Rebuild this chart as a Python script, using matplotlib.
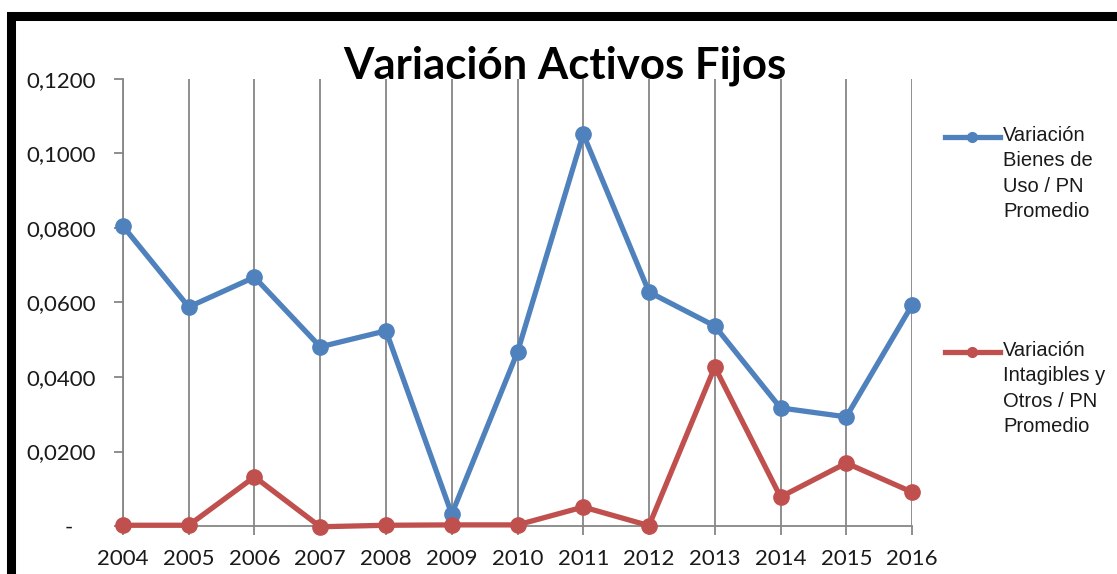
import matplotlib
matplotlib.use('Agg')
import matplotlib.pyplot as plt
from matplotlib.patches import Rectangle
from matplotlib.lines import Line2D

# datos
years = [2004, 2005, 2006, 2007, 2008, 2009, 2010, 2011, 2012, 2013, 2014, 2015, 2016]
bienes_uso = [0.0805, 0.0588, 0.0668, 0.0481, 0.0524, 0.0032, 0.0467, 0.1052,
              0.0628, 0.0537, 0.0317, 0.0293, 0.0593]
intangibles = [0.0002, 0.0002, 0.0132, -0.0002, 0.0002, 0.0003, 0.0003, 0.0051,
               0.0001, 0.0427, 0.0078, 0.0169, 0.0091]
y_ticks = [0, 0.02, 0.04, 0.06, 0.08, 0.10, 0.12]
y_labels = ['-    ', '0,0200', '0,0400', '0,0600', '0,0800', '0,1000', '0,1200']
legend_labels = ['Variación\nBienes de\nUso / PN\nPromedio',
                 'Variación\nIntagibles y\nOtros / PN\nPromedio']

blue = '#4F81BD'
red = '#C0504D'
grid_col = '#868686'

plt.rcParams['font.family'] = ['Lato', 'DejaVu Sans']

fig = plt.figure(figsize=(11.17, 5.74), dpi=100)
ax = fig.add_axes([0.1101, 0.0836, 0.7064, 0.7788])

ax.plot(years, bienes_uso, color=blue, lw=3.8, marker='o', ms=11, zorder=3,
        clip_on=False)
ax.plot(years, intangibles, color=red, lw=3.8, marker='o', ms=11, zorder=3,
        clip_on=False)

ax.set_xlim(years[0], years[-1])
ax.set_ylim(0, 0.12)
ax.set_xticks(years)
ax.set_xticklabels([str(y) for y in years])
ax.set_yticks(y_ticks)
ax.set_yticklabels(y_labels)
for y in years:
    ax.axvline(y, color=grid_col, lw=1.3, zorder=1)

for s in ['top', 'right']:
    ax.spines[s].set_visible(False)
for s in ['left', 'bottom']:
    ax.spines[s].set_color(grid_col)
    ax.spines[s].set_linewidth(1.3)
ax.tick_params(axis='both', colors=grid_col, width=1.3, length=6.5,
               labelcolor='#1a1a1a', labelsize=16)
ax.tick_params(axis='y', pad=13)
ax.tick_params(axis='x', pad=10)

fig.text(0.506, 0.885, 'Variación Activos Fijos', ha='center', va='center',
         fontsize=31.5, fontweight='bold', color='black')

# leyenda manual a la derecha
for i, (lab, col) in enumerate(zip(legend_labels, [blue, red])):
    yy = 1 - (137 + i * 215) / 574
    fig.add_artist(Line2D([945 / 1117, 1000 / 1117], [yy, yy], color=col, lw=3.8))
    fig.add_artist(Line2D([972 / 1117], [yy], color=col, marker='o', ms=7))
    fig.text(1003 / 1117, yy + 11 / 574, lab, ha='left', va='top',
             fontsize=14.5, family='Liberation Sans', color='#1a1a1a',
             linespacing=1.42)

# marco negro
fig.add_artist(Rectangle((11 / 1117, -0.1), 1.2, 0.9713 + 0.1,
                         transform=fig.transFigure, fill=False,
                         edgecolor='black', lw=6.5))

fig.savefig('out.png', dpi=100)
